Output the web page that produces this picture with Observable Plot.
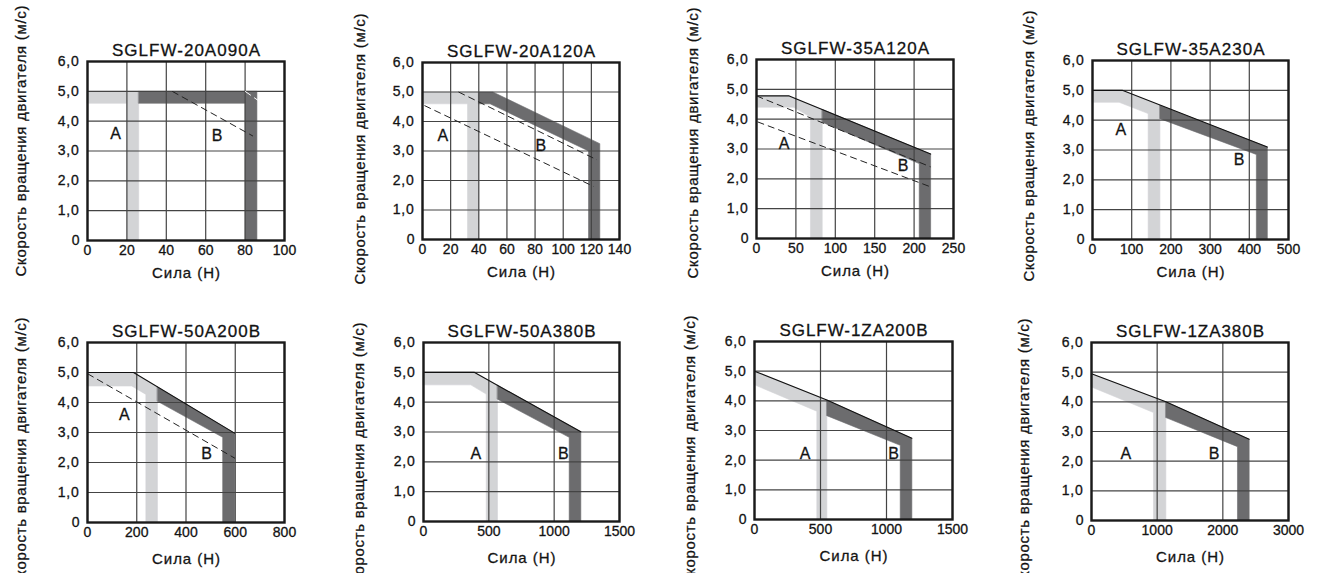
<!DOCTYPE html>
<html><head><meta charset="utf-8">
<script src="https://cdn.jsdelivr.net/npm/d3@7"></script>
<script src="https://cdn.jsdelivr.net/npm/@observablehq/plot@0.6"></script>
<style>
body{margin:0;background:#fff;}
#root{position:relative;width:1321px;height:573px;overflow:hidden;background:#fff;}
.cell{position:absolute;}
.cell svg text{stroke:#1a1a1a;stroke-width:0.3px;}
</style></head><body><div id="root"></div>
<script>
// ---------- data ----------
const titles = ["SGLFW-20A090A","SGLFW-20A120A","SGLFW-35A120A","SGLFW-35A230A",
                "SGLFW-50A200B","SGLFW-50A380B","SGLFW-1ZA200B","SGLFW-1ZA380B"];
const xLabel = "Сила (Н)";
const yLabel = "Скорость вращения двигателя (м/с)";
const xMaxes = [100,140,250,500,800,1500,1500,3000];
const xTicks = [
  [0,20,40,60,80,100],
  [0,20,40,60,80,100,120,140],
  [0,50,100,150,200,250],
  [0,100,200,300,400,500],
  [0,200,400,600,800],
  [0,500,1000,1500],
  [0,500,1000,1500],
  [0,1000,2000,3000]
];
const yTicks = [0,1,2,3,4,5,6];
const yTickLabels = ["0","1,0","2,0","3,0","4,0","5,0","6,0"];

// region A (light) polygons, [force, speed]
const bandA = [
  [[0,5],[26,5],[26,0],[20,0],[20,4.6],[0,4.6]],
  [[0,5],[40,5],[40,0],[32,0],[32,4.6],[0,4.6]],
  [[0,4.78],[41.5,4.78],[83.4,4.33],[83.4,0],[68.5,0],[68.5,4.07],[47,4.4],[0,4.4]],
  [[0,5],[76,5],[172,4.5],[172,0],[142,0],[142,4.22],[68,4.6],[0,4.6]],
  [[0,5],[187,5],[284,4.52],[284,0],[237,0],[237,4.27],[180,4.55],[0,4.55]],
  [[0,5],[388,5],[566,4.57],[566,0],[480,0],[480,4.27],[362,4.58],[0,4.58]],
  [[0,5],[548,4.03],[548,0],[472,0],[472,3.65],[0,4.54]],
  [[0,4.95],[1132,4.0],[1132,0],[944,0],[944,3.64],[0,4.5]]
];
// region B (dark) polygons
const bandB = [
  [[26,5],[86,5],[86,0],[80,0],[80,4.6],[26,4.6]],
  [[40,5],[50,5],[126,3.25],[126,0],[118,0],[118,3.0],[48,4.6],[40,4.6]],
  [[83.4,4.33],[221,2.83],[221,0],[206.5,0],[206.5,2.51],[83.4,3.9]],
  [[172,4.5],[446,3.1],[446,0],[418,0],[418,2.85],[172,4.05]],
  [[284,4.52],[597,2.98],[597,0],[549,0],[549,2.84],[284,4.04]],
  [[566,4.57],[1204,3.01],[1204,0],[1115,0],[1115,2.82],[566,4.1]],
  [[548,4.03],[1192,2.74],[1192,0],[1104,0],[1104,2.5],[548,3.5]],
  [[1132,4.0],[2401,2.74],[2401,0],[2223,0],[2223,2.49],[1132,3.47]]
];
// thin solid outline of the envelope
const outlines = [
  [],
  [],
  [[0,4.78],[41.5,4.78],[221,2.83]],
  [[0,5],[76,5],[446,3.1]],
  [[0,5],[187,5],[597,2.98]],
  [[0,5],[388,5],[1204,3.01]],
  [[0,5],[548,4.03],[1192,2.74]],
  [[0,4.95],[1132,4.0],[2401,2.74]]
];
// dashed lines
const dashLines = [
  [[[43,5.0],[84,3.5]]],
  [[[25.6,5.0],[124,2.7]], [[1.4,4.54],[121.5,1.8]]],
  [[[0,4.78],[221,2.4]], [[1.3,3.91],[221,1.73]]],
  [],
  [[[0,4.96],[599,2.14]]],
  [], [], []
];
// dashed segments drawn over the dark band
const dashLinesOnBand = [
  [[[80,5.0],[86.5,4.7]]],
  [], [], [], [], [], [], []
];
const labelsA = [[14.2,3.58],[14.5,3.52],[35,3.18],[72,3.66],[150,3.59],[400,2.26],[384,2.22],[523,2.23]];
const labelsB = [[65.8,3.52],[84.1,3.19],[186,2.44],[374,2.67],[484,2.29],[1071,2.26],[1053,2.22],[1868,2.23]];

// ---------- layout ----------
const cellX = [0,330,660,990,0,330,660,990];
const cellY = [0,0,0,0,290,290,290,290];
const cellW = [330,330,330,331,330,330,330,331];
const cellH = [290,290,290,290,283,283,283,283];
// frame [left, right, top, bottom] in page px
const frames = [
  [87,284,61,240],[422,619,62,239],[756,953,59,238],[1092,1288,60,239],
  [87,284,342,522],[423,619,342,521],[754,952,341,519],[1091,1288,342,520]
];
const yLabelX = [21,360,693,1029,21,359,690,1024];
const yLabelTop = [5,13,7,10,317,322,315,318];
const xLabelDy = [37,37,37,37,41,41,41,41];

const LIGHT = "#d3d4d6", DARK = "#6c6c6e";
const FONT = "'Liberation Sans', Arial, Helvetica, sans-serif";
const root = document.getElementById("root");

for (let i = 0; i < 8; i++) {
  const [fl, fr, ft, fb] = frames[i];
  const mL = fl - cellX[i], mR = cellX[i] + cellW[i] - fr;
  const mT = ft - cellY[i], mB = cellY[i] + cellH[i] - fb;
  const fcy = (ft + fb) / 2;
  const X = d => d[0], Y = d => d[1];
  const marks = [
    Plot.line(bandA[i], {x: X, y: Y, fill: LIGHT, stroke: LIGHT, strokeWidth: 0.6, curve: "linear-closed"}),
    Plot.line(bandB[i], {x: X, y: Y, fill: DARK, stroke: DARK, strokeWidth: 0.6, curve: "linear-closed"}),
    Plot.gridX({ticks: xTicks[i], stroke: "#444", strokeOpacity: 1, strokeWidth: 1.2}),
    Plot.gridY({ticks: yTicks, stroke: "#444", strokeOpacity: 1, strokeWidth: 1.2}),
    outlines[i].length ? Plot.line(outlines[i], {x: X, y: Y, stroke: "#111", strokeWidth: 1.1}) : null,
    ...dashLines[i].map(l => Plot.line(l, {x: X, y: Y, stroke: "#222", strokeWidth: 1, strokeDasharray: "7,4", strokeLinecap: "butt"})),
    ...dashLinesOnBand[i].map(l => Plot.line(l, {x: X, y: Y, stroke: "#fff", strokeWidth: 1, strokeDasharray: "7,4", strokeLinecap: "butt"})),
    Plot.frame({stroke: "#1a1a1a", strokeWidth: 2.4}),
    Plot.axisX({ticks: xTicks[i], tickSize: 0, tickPadding: 5, fontSize: 14, tickFormat: d => String(d), label: null}),
    Plot.axisY({ticks: yTicks, tickSize: 0, tickPadding: 8, fontSize: 14, tickFormat: d => yTickLabels[yTicks.indexOf(d)], label: null}),
    Plot.text([labelsA[i]], {x: X, y: Y, text: () => "A", fontSize: 16, fill: "#111"}),
    Plot.text([labelsB[i]], {x: X, y: Y, text: () => "B", fontSize: 16, fill: "#111"}),
    Plot.text([titles[i]], {text: d => d, frameAnchor: "top", dy: -18, fontSize: 17, fill: "#111"}),
    Plot.text([xLabel], {text: d => d, frameAnchor: "bottom", dy: xLabelDy[i], fontSize: 15, fill: "#111"}),
    Plot.text([yLabel], {text: d => d, frameAnchor: "left", dx: yLabelX[i] - fl, dy: yLabelTop[i] - fcy,
      rotate: -90, textAnchor: "end", lineAnchor: "middle", fontSize: 15, fill: "#111"})
  ].filter(Boolean);
  const svg = Plot.plot({
    width: cellW[i], height: cellH[i],
    marginLeft: mL, marginRight: mR, marginTop: mT, marginBottom: mB,
    x: {domain: [0, xMaxes[i]]},
    y: {domain: [0, 6]},
    style: {maxWidth: "none", overflow: "visible", background: "transparent", fontFamily: FONT, color: "#111"},
    marks
  });
  const byText = t => d3.select(svg).selectAll("text").filter(function() { return this.textContent === t; });
  byText(titles[i]).attr("textLength", 148).attr("lengthAdjust", "spacing");
  byText(yLabel).attr("textLength", 271).attr("lengthAdjust", "spacing");
  byText(xLabel).attr("textLength", 68).attr("lengthAdjust", "spacing");
  yTickLabels.filter(t => t.includes(",")).forEach(t => byText(t).attr("letter-spacing", "0.8px"));
  const div = document.createElement("div");
  div.className = "cell";
  div.style.left = cellX[i] + "px";
  div.style.top = cellY[i] + "px";
  div.appendChild(svg);
  root.appendChild(div);
}
</script></body></html>
